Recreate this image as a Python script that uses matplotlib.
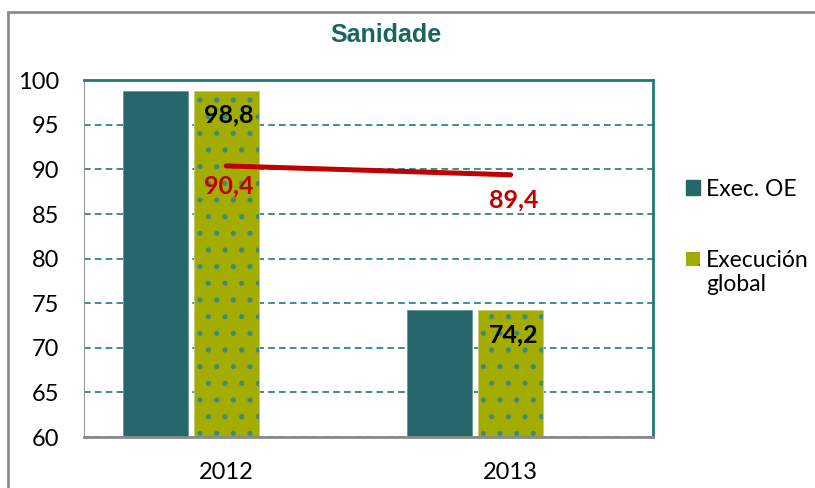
import matplotlib
matplotlib.use("Agg")
import matplotlib.pyplot as plt
from matplotlib.patches import Rectangle, Patch
import numpy as np

years = ["2012", "2013"]
exec_oe = [98.8, 74.2]
exec_global = [98.8, 74.2]
line_vals = [90.4, 89.4]
bar_labels = ["98,8", "74,2"]
line_labels = ["90,4", "89,4"]

teal = "#27676b"
olive = "#a3ad00"
grid_teal = "#1f7a76"
red = "#c00000"

plt.rcParams['font.family'] = ['Lato', 'DejaVu Sans']
plt.rcParams['hatch.linewidth'] = 1.3
plt.rcParams['hatch.color'] = "#3f8a7e"

fig = plt.figure(figsize=(8.15, 4.88), dpi=100)
ax = fig.add_axes([0.1031, 0.1045, 0.698, 0.731])

x = np.arange(len(years))
w = 0.228
ax.bar(x - 0.249, exec_oe, w, color=teal, edgecolor="#5f9a9c", linewidth=0.6, zorder=2)
ax.bar(x, exec_global, w, color=olive, edgecolor="#c8cc70", linewidth=0.6, zorder=2)
ax.bar(x, exec_global, w, color="none", edgecolor="#3f8a7e", hatch=".", linewidth=0, zorder=2)
ax.plot(x, line_vals, color=red, lw=3.6, solid_capstyle="round", zorder=3)

for xi, v, s in zip(x, exec_global, bar_labels):
    ax.text(xi + 0.01, v - 2.7, s, ha="center", va="center", fontsize=18, fontweight="bold", color="black", zorder=4)
for xi, v, s, dy in zip(x, line_vals, line_labels, [2.2, 2.85]):
    ax.text(xi + 0.01, v - dy, s, ha="center", va="center", fontsize=18, fontweight="bold", color=red, zorder=4)

ax.set_xlim(-0.5, 1.5)
ax.set_ylim(60, 100)
ax.set_yticks(np.arange(60, 101, 5))
ax.set_xticks(x)
ax.set_xticklabels(years)
ax.yaxis.grid(True, color=grid_teal, linestyle=(0, (4, 2.5)), lw=1.2)
ax.set_axisbelow(True)
ax.tick_params(axis="y", length=0, pad=18, labelsize=17)
ax.tick_params(axis="x", length=0, pad=18, labelsize=17)

ax.spines["left"].set_color("#9a9a9a")
ax.spines["bottom"].set_color("#8a8a8a")
ax.spines["bottom"].set_linewidth(2)
ax.spines["top"].set_color(grid_teal)
ax.spines["right"].set_color(grid_teal)
ax.spines["top"].set_linewidth(2)
ax.spines["right"].set_linewidth(2)

fig.text(0.474, 0.928, "Sanidade", ha="center", va="center", fontsize=18, fontweight="bold",
         color="#17675f", family=["Liberation Sans"])

# legend: second entry wraps, its handle sits on the first line
handles = [Patch(facecolor=teal, edgecolor=teal),
           Patch(facecolor=olive, edgecolor="#3f8a7e", hatch=".", linewidth=0)]
fig.legend(handles, ["Exec. OE", "Execución"], loc="upper left",
           bbox_to_anchor=(0.8417, 0.634), frameon=False, fontsize=16.5,
           borderpad=0, borderaxespad=0,
           handlelength=0.61, handleheight=0.61, handletextpad=0.26, labelspacing=2.2)
fig.text(0.866, 0.416, "global", ha="left", va="center", fontsize=16.5)

fig.patches.append(Rectangle((0.0098, -0.01), 1.0, 0.985, transform=fig.transFigure,
                             fill=False, edgecolor="#8c8c8c", lw=2))

fig.savefig("out.png", dpi=100)
